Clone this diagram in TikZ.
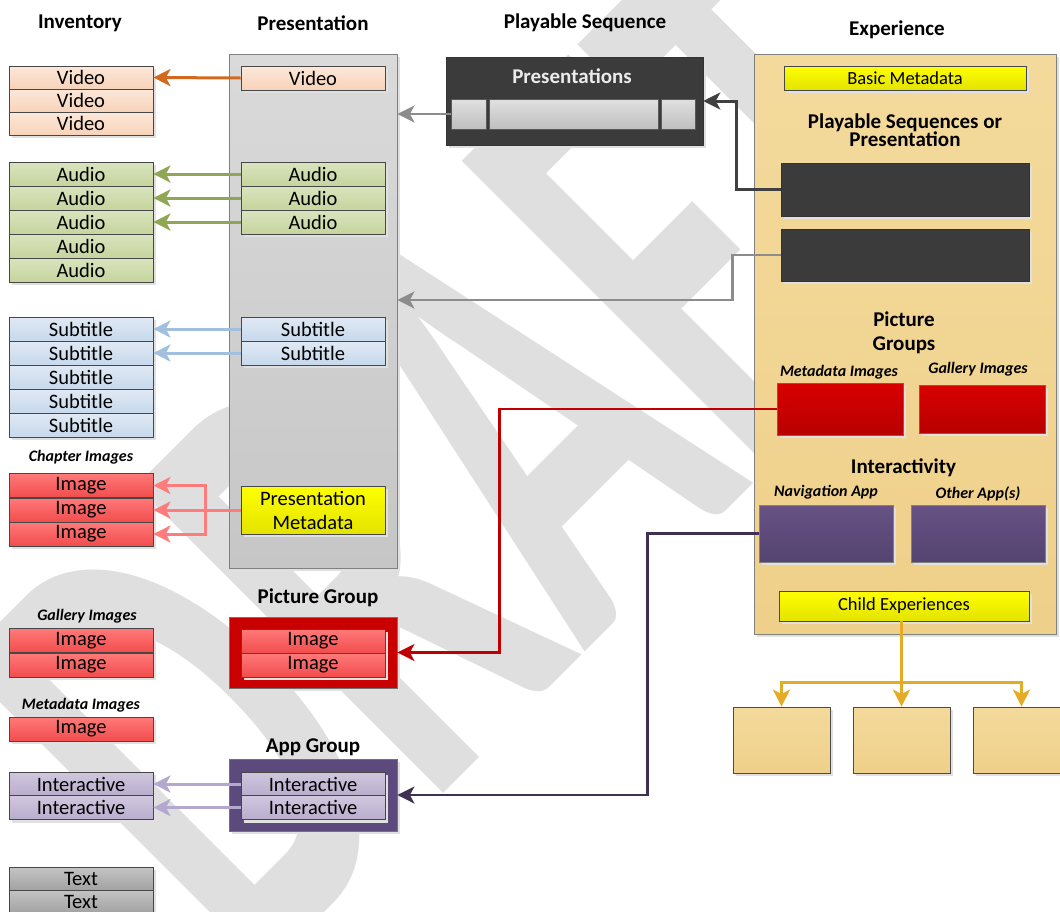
\documentclass[tikz,border=0pt]{standalone}
\usepackage{fontspec}
\usepackage{graphicx}
\setmainfont{Carlito}
\usetikzlibrary{arrows.meta,calc,shadows}
\definecolor{wm}{HTML}{DFDFDF}
\definecolor{vidT}{HTML}{FCE8DA}\definecolor{vidB}{HTML}{F7D2B9}
\definecolor{audT}{HTML}{D9E4BE}\definecolor{audB}{HTML}{C6D49E}
\definecolor{subT}{HTML}{E0E9F4}\definecolor{subB}{HTML}{C7D9EC}
\definecolor{imgT}{HTML}{FF7A7A}\definecolor{imgB}{HTML}{F24C4C}
\definecolor{intT}{HTML}{D0C7DE}\definecolor{intB}{HTML}{B9ADCD}
\definecolor{txtT}{HTML}{C4C4C4}\definecolor{txtB}{HTML}{A2A2A2}
\definecolor{yelT}{HTML}{FFFF00}\definecolor{yelB}{HTML}{E3E300}
\definecolor{preT}{HTML}{DADADA}\definecolor{preB}{HTML}{C6C6C6}
\definecolor{expT}{HTML}{F3DA9C}\definecolor{expB}{HTML}{EFD08A}
\definecolor{dark}{HTML}{3B3B3B}
\definecolor{redT}{HTML}{D80000}\definecolor{redB}{HTML}{B80000}
\definecolor{purT}{HTML}{665284}\definecolor{purB}{HTML}{554370}
\definecolor{pgred}{HTML}{C80000}\definecolor{agpur}{HTML}{5D4A7C}
\definecolor{aOrange}{HTML}{D2691E}\definecolor{aGreen}{HTML}{8FA655}
\definecolor{aBlue}{HTML}{A0C0DE}\definecolor{aSalmon}{HTML}{FF7C7C}
\definecolor{aLav}{HTML}{B4A8D0}\definecolor{aGray}{HTML}{8C8C8C}
\definecolor{aDark}{HTML}{404040}\definecolor{aRed}{HTML}{C00000}
\definecolor{aPur}{HTML}{403152}\definecolor{aGold}{HTML}{E4AC24}
\begin{document}
\begin{tikzpicture}[x=1pt,y=-1pt,
  shad/.style={drop shadow={shadow xshift=3pt,shadow yshift=-3pt,fill=black!12,opacity=1}},
  bx/.style={draw=black!72,line width=0.8pt,inner sep=0pt,minimum width=144pt,minimum height=24pt,
     font=\fontsize{20.5}{22}\selectfont,shad},
  vid/.style={bx,top color=vidT,bottom color=vidB},
  aud/.style={bx,top color=audT,bottom color=audB},
  sub/.style={bx,top color=subT,bottom color=subB},
  img/.style={bx,top color=imgT,bottom color=imgB},
  intr/.style={bx,top color=intT,bottom color=intB},
  txtbox/.style={bx,top color=txtT,bottom color=txtB},
  yel/.style={bx,top color=yelT,bottom color=yelB},
  head/.style={font=\fontsize{21}{22}\selectfont\bfseries,inner sep=0pt},
  lab/.style={font=\fontsize{16}{18}\selectfont\bfseries\itshape,inner sep=0pt},
  blk/.style={draw=black!80,line width=0.5pt,fill=dark,inner sep=0pt},
  tipA/.style={-{Stealth[length=17pt,width=17pt,inset=4.5pt]}},
  con/.style={tipA,line width=3pt},
  con2/.style={tipA,line width=2.6pt},
  both/.style={{Stealth[length=17pt,width=17pt,inset=4.5pt]}-{Stealth[length=17pt,width=17pt,inset=4.5pt]},line width=3pt}
]
\useasboundingbox (0,0) rectangle (1060,911);
% watermark
\node[rotate=45,text=wm,inner sep=0pt,font=\fontsize{670}{670}\selectfont\bfseries] (wmark) at (482.5,447.5) {\scalebox{0.59}[1]{DRAFT}};

% headings
\node[head] (hInv) at (80,23) {Inventory};
\node[head] (hPre) at (313,23) {Presentation};
\node[head] (hPS) at (585,23) {Playable Sequence};
\node[head] (hExp) at (897,30) {Experience};

% inventory
\node[vid,minimum height=23pt] (iv1) at (81,77.5) {Video};
\node[vid,minimum height=23pt] (iv2) at (81,100.5) {Video};
\node[vid,minimum height=23pt] (iv3) at (81,123.5) {Video};
\node[aud] (ia1) at (81,174) {Audio};
\node[aud] (ia2) at (81,198) {Audio};
\node[aud] (ia3) at (81,222) {Audio};
\node[aud] (ia4) at (81,246) {Audio};
\node[aud] (ia5) at (81,270) {Audio};
\node[sub] (is1) at (81,329) {Subtitle};
\node[sub] (is2) at (81,353) {Subtitle};
\node[sub] (is3) at (81,377) {Subtitle};
\node[sub] (is4) at (81,401) {Subtitle};
\node[sub] (is5) at (81,425) {Subtitle};
\node[lab] (lCh) at (81,457) {Chapter Images};
\node[img] (ci1) at (81,485.5) {Image};
\node[img] (ci2) at (81,510) {Image};
\node[img] (ci3) at (81,534) {Image};
\node[lab] (lGa) at (87,616) {Gallery Images};
\node[img] (gi1) at (81,640.5) {Image};
\node[img] (gi2) at (81,665) {Image};
\node[lab] (lMe) at (81,705) {Metadata Images};
\node[img] (mi1) at (81,729) {Image};
\node[intr] (ii1) at (81,784) {Interactive};
\node[intr] (ii2) at (81,807.5) {Interactive};
\node[txtbox,minimum height=23pt] (it1) at (81,878.5) {Text};
\node[txtbox,minimum height=23pt] (it2) at (81,901.5) {Text};

% presentation
\node[draw=black!50,line width=0.8pt,top color=preT,bottom color=preB,minimum width=168pt,minimum height=514pt,inner sep=0pt,shad] (pres) at (313,311) {};
\node[vid] (pv) at (313,78) {Video};
\node[aud] (pa1) at (313,174) {Audio};
\node[aud] (pa2) at (313,198) {Audio};
\node[aud] (pa3) at (313,222) {Audio};
\node[sub] (ps1) at (313,329) {Subtitle};
\node[sub] (ps2) at (313,353) {Subtitle};
\node[yel,minimum height=48pt,align=center,font=\fontsize{20.5}{24}\selectfont] (pm) at (313,510) {Presentation\\Metadata};

% picture group
\node[head] (hPG) at (318,598) {Picture Group};
\node[draw=black!55,line width=0.8pt,fill=pgred,minimum width=168pt,minimum height=71pt,inner sep=0pt,shad] (pg) at (313,652.5) {};
\node[img] (pgi1) at (313,641) {Image};
\node[img] (pgi2) at (313,665) {Image};

% app group
\node[head] (hAG) at (313,747) {App Group};
\node[draw=black!55,line width=0.8pt,fill=agpur,minimum width=168pt,minimum height=72pt,inner sep=0pt,shad] (ag) at (313,795) {};
\node[intr] (agi1) at (313,784) {Interactive};
\node[intr] (agi2) at (313,807.5) {Interactive};

% playable sequence
\node[blk,minimum width=257pt,minimum height=88pt,shad] (ps) at (574.5,101) {};
\node[font=\fontsize{21}{22}\selectfont\bfseries,text=white!92!black,inner sep=0pt] (psT) at (572,76) {Presentations};
\node[draw=black!65,line width=0.6pt,top color=black!12,bottom color=black!25,minimum width=35pt,minimum height=30pt,inner sep=0pt] (psa) at (468.5,114) {};
\node[draw=black!65,line width=0.6pt,top color=black!12,bottom color=black!25,minimum width=169pt,minimum height=30pt,inner sep=0pt] (psb) at (573.5,114) {};
\node[draw=black!65,line width=0.6pt,top color=black!12,bottom color=black!25,minimum width=34pt,minimum height=30pt,inner sep=0pt] (psc) at (678,114) {};

% experience
\node[draw=black!50,line width=0.8pt,top color=expT,bottom color=expB,minimum width=302pt,minimum height=580pt,inner sep=0pt,shad] (exp) at (905,344) {};
\node[yel,minimum width=242pt,font=\fontsize{18.5}{20}\selectfont] (bm) at (905,78) {Basic Metadata};
\node[head,align=center,font=\fontsize{21}{18.5}\selectfont\bfseries] (tPS) at (905,130) {Playable Sequences or\\Presentation};
\node[blk,minimum width=248pt,minimum height=53pt,shad] (ex1) at (905,189.5) {};
\node[blk,minimum width=248pt,minimum height=52pt,shad] (ex2) at (905,255) {};
\node[head] (tPic) at (904,319) {Picture};
\node[head] (tGr) at (904,345) {Groups};
\node[lab] (lMI) at (839,372) {Metadata Images};
\node[lab] (lGI) at (978,369) {Gallery Images};
\node[draw=black!60,line width=0.6pt,top color=redT,bottom color=redB,minimum width=126pt,minimum height=52pt,inner sep=0pt,shad] (mi) at (840,409) {};
\node[draw=black!60,line width=0.6pt,top color=redT,bottom color=redB,minimum width=126pt,minimum height=48pt,inner sep=0pt,shad] (gi) at (982,409) {};
\node[head] (tInt) at (903.5,468) {Interactivity};
\node[lab] (lNA) at (826,492) {Navigation App};
\node[lab] (lOA) at (978,494) {Other App(s)};
\node[draw=black!50,line width=0.6pt,top color=purT,bottom color=purB,minimum width=134pt,minimum height=57pt,inner sep=0pt,shad] (nav) at (826,533.5) {};
\node[draw=black!50,line width=0.6pt,top color=purT,bottom color=purB,minimum width=134pt,minimum height=57pt,inner sep=0pt,shad] (oth) at (978,533.5) {};
\node[yel,minimum width=250pt,minimum height=30pt,font=\fontsize{18.5}{20}\selectfont] (child) at (904,606) {Child Experiences};

% child experiences
\node[draw=black!70,line width=0.8pt,top color=expT,bottom color=expB,minimum width=97pt,minimum height=66pt,inner sep=0pt,shad] (ch1) at (781.5,740) {};
\node[draw=black!70,line width=0.8pt,top color=expT,bottom color=expB,minimum width=97pt,minimum height=66pt,inner sep=0pt,shad] (ch2) at (901.5,740) {};
\node[draw=black!70,line width=0.8pt,top color=expT,bottom color=expB,minimum width=97pt,minimum height=66pt,inner sep=0pt,shad] (ch3) at (1021.5,740) {};

% connectors inventory
\draw[con,aOrange] (pv.west) -- (iv1.east);
\draw[con,aGreen] (pa1.west) -- (ia1.east);
\draw[con,aGreen] (pa2.west) -- (ia2.east);
\draw[con,aGreen] (pa3.west) -- (ia3.east);
\draw[con,aBlue] (ps1.west) -- (is1.east);
\draw[con,aBlue] (ps2.west) -- (is2.east);
\draw[con,aSalmon] (pm.west) -- (ci2.east);
\draw[both,aSalmon] (ci1.east) -- ++(52,0) |- (ci3.east);
\draw[con,aLav] (agi1.west) -- (ii1.east);
\draw[con,aLav] (agi2.west) -- (ii2.east);

% connectors experience
\draw[con2,aGray] (psa.west) -- (pres.east |- psa.west);
\draw[con,aDark] (ex1.west) -- ++(-44,0) |- (ps.east);
\draw[con2,aGray] (ex2.west) -- ++(-48,0) |- ([yshift=11pt]pres.east);
\draw[con2,aRed] (mi.west) -- ++(-277,0) |- (pg.east);
\draw[con2,aPur] (nav.west) -- ++(-111,0) |- (ag.east);
\draw[con,aGold] (ch2.north |- child.south) -- (ch2.north);
\draw[both,aGold] (ch1.north) |- ($(ch2.north)+(0,-24)$) -| (ch3.north);
\end{tikzpicture}
\end{document}
